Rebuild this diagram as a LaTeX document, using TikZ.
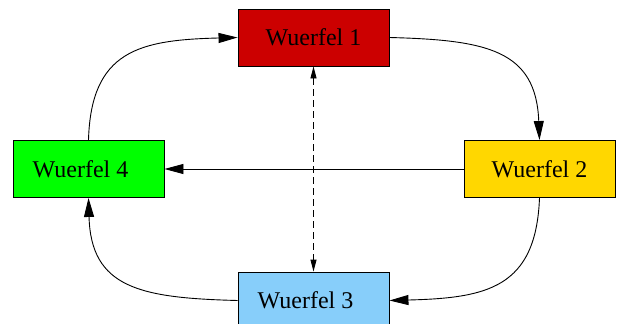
\documentclass[tikz,border=0pt]{standalone}
\usepackage{fontspec}
\setmainfont{Liberation Serif}
\usetikzlibrary{arrows.meta}
\definecolor{cubered}{HTML}{CC0000}
\definecolor{cubegold}{HTML}{FFD700}
\definecolor{cubeblue}{HTML}{87CEFA}
\definecolor{cubegreen}{HTML}{00FF00}
\tikzset{
  cube/.style={draw=black, line width=0.9pt, minimum width=151pt, minimum height=57pt,
    inner sep=0pt, font=\fontsize{24}{29}\selectfont},
  flow/.style={line width=0.9pt, -{Triangle[length=19pt,width=10pt]}},
  link/.style={line width=0.9pt, dash pattern=on 7pt off 4pt,
    {Triangle[length=12pt,width=6pt]}-{Triangle[length=12pt,width=6pt]}}
}
\begin{document}
\begin{tikzpicture}[x=1pt,y=-1pt]
  \useasboundingbox (0,0) rectangle (619,324);
  \clip (0,0) rectangle (619,324);
  \node[cube, fill=cubered]   (w1) at (313.5,37.5)  {Wuerfel 1};
  \node[cube, fill=cubegold]  (w2) at (539.5,169)   {Wuerfel 2};
  \node[cube, fill=cubeblue]  (w3) at (313.5,300.5) {Wuerfel 3\hspace*{16pt}};
  \node[cube, fill=cubegreen] (w4) at (88.5,169)    {Wuerfel 4\hspace*{16pt}};

  % ring of transitions
  \draw[flow] (w4.north) .. controls (91,50) and (140,40) .. (w1.west);
  \draw[flow] (w1.east) .. controls (487,40) and (536,50) .. (w2.north);
  \draw[flow] (w2.south) .. controls (536,288) and (487,298) .. (w3.east);
  \draw[flow] (w3.west) .. controls (140,298) and (91,288) .. (w4.south);
  \draw[flow] (w2.west) -- (w4.east);

  % link between the top and bottom cube
  \draw[link] (w1.south) -- (w3.north);
\end{tikzpicture}
\end{document}
